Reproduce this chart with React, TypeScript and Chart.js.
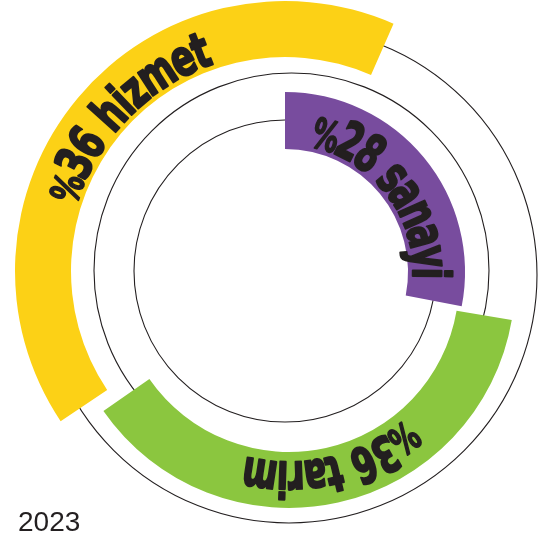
import React, { useEffect, useRef } from "react";
import { Chart, registerables } from "chart.js";

Chart.register(...registerables);

// ---- data ----
const sectors = ["hizmet", "sanayi", "tarim"];
const shares = [36, 28, 36];
const colors = ["#FCD116", "#784C9E", "#8BC63F"];
const yearLabel = "2023";

// ---- layout (geometry / styles) ----
const W = 547;
const H = 539;
const INK = "#231F20";
const ringCenters: number[][] = [[285, 271], [285, 272], [289, 282]];
const ringRadii: number[][] = [[214, 270], [123, 180], [170, 226]];
const ringStart = [236.2, 0, 99.7];
const ringSweep = [147.5, 101, 135.5];
const textBaseOffset = [5, 5, 10];
const textFontPx = [42, 44, 42];
const textStretchY = 1.18;
const textSpan: number[][] = [[287.5, 341], [11.4, 92.8], [139.7, 193.7]];

const circleCenters: number[][] = [[289, 275], [291.5, 270.5], [285, 271]];
const circleRadii = [248, 197.5, 151];

function padFor(cx: number, cy: number) {
  return {
    left: Math.max(0, 2 * cx - W),
    right: Math.max(0, W - 2 * cx),
    top: Math.max(0, 2 * cy - H),
    bottom: Math.max(0, H - 2 * cy),
  };
}

function drawArcText(
  ctx: CanvasRenderingContext2D,
  cx: number,
  cy: number,
  text: string,
  rBase: number,
  startDeg: number,
  endDeg: number,
  fontPx: number
) {
  ctx.save();
  ctx.font = `bold ${fontPx}px "DejaVu Sans", "Liberation Sans", sans-serif`;
  const chars = Array.from(text);
  const widths = chars.map((c) => ctx.measureText(c).width * (c === "%" ? 0.8 : 1));
  const total = widths.reduce((a, b) => a + b, 0);
  const capH = fontPx * 0.73 * textStretchY;
  const rMid = rBase + capH / 2;
  const span = ((endDeg - startDeg) * Math.PI) / 180;
  const sx = (span * rMid) / total;
  ctx.fillStyle = INK;
  ctx.strokeStyle = INK;
  ctx.lineWidth = 2;
  ctx.lineJoin = "round";
  ctx.textAlign = "center";
  ctx.textBaseline = "alphabetic";
  let acc = 0;
  chars.forEach((c, i) => {
    const w = widths[i] * sx;
    const theta = (startDeg * Math.PI) / 180 + (acc + w / 2) / rMid;
    acc += w;
    if (c === " ") return;
    ctx.save();
    ctx.translate(cx, cy);
    ctx.rotate(theta);
    ctx.translate(0, -rBase);
    const pct = c === "%" ? 0.8 : 1;
    ctx.scale(sx * pct, textStretchY * pct);
    ctx.fillText(c, 0, 0);
    ctx.strokeText(c, 0, 0);
    ctx.restore();
  });
  ctx.restore();
}

function circleConfig(i: number): any {
  const [cx, cy] = circleCenters[i];
  return {
    type: "doughnut",
    data: {
      datasets: [
        {
          data: [1],
          backgroundColor: ["rgba(0,0,0,0)"],
          borderColor: [INK],
          borderWidth: 1.1,
        },
      ],
    },
    options: {
      responsive: false,
      animation: false,
      events: [],
      radius: circleRadii[i],
      cutout: "100%",
      layout: { padding: padFor(cx, cy) },
      plugins: { legend: { display: false }, tooltip: { enabled: false } },
    },
  };
}

function ringConfig(i: number): any {
  const [cx, cy] = ringCenters[i];
  const [inner, outer] = ringRadii[i];
  const label = `%${shares[i]} ${sectors[i]}`;
  return {
    type: "doughnut",
    data: {
      labels: [sectors[i]],
      datasets: [
        {
          data: [shares[i]],
          backgroundColor: [colors[i]],
          borderWidth: 0,
          rotation: ringStart[i],
          circumference: ringSweep[i],
        },
        {
          data: [1],
          backgroundColor: ["rgba(0,0,0,0)"],
          borderWidth: 0,
          weight: 0,
        },
      ],
    },
    options: {
      responsive: false,
      animation: false,
      events: [],
      radius: outer,
      cutout: `${(inner / outer) * 100}%`,
      layout: { padding: padFor(cx, cy) },
      plugins: { legend: { display: false }, tooltip: { enabled: false } },
    },
    plugins: [
      {
        id: "arcText" + i,
        afterDatasetsDraw(chart: any) {
          const arc = chart.getDatasetMeta(0).data[0];
          if (!arc) return;
          drawArcText(
            chart.ctx,
            arc.x,
            arc.y,
            label,
            arc.innerRadius + textBaseOffset[i],
            textSpan[i][0],
            textSpan[i][1],
            textFontPx[i]
          );
        },
      },
    ],
  };
}

const layerConfigs = [
  () => circleConfig(0),
  () => circleConfig(1),
  () => circleConfig(2),
  () => ringConfig(0),
  () => ringConfig(2),
  () => ringConfig(1),
];

export default function App() {
  const refs = useRef<(HTMLCanvasElement | null)[]>([]);

  useEffect(() => {
    const charts = layerConfigs.map((mk, i) => {
      const cv = refs.current[i];
      return cv ? new Chart(cv, mk()) : null;
    });
    return () => {
      charts.forEach((c) => c && c.destroy());
    };
  }, []);

  return (
    <div
      style={{
        position: "absolute",
        left: 0,
        top: 0,
        width: W,
        height: H,
        overflow: "hidden",
        background: "#ffffff",
      }}
    >
      {layerConfigs.map((_, i) => (
        <canvas
          key={i}
          ref={(el) => {
            refs.current[i] = el;
          }}
          width={W}
          height={H}
          style={{ position: "absolute", left: 0, top: 0 }}
        />
      ))}
      <div
        style={{
          position: "absolute",
          left: 18,
          top: 508,
          font: '28px "Liberation Sans", Arial, sans-serif',
          lineHeight: "28px",
          color: INK,
        }}
      >
        {yearLabel}
      </div>
    </div>
  );
}
